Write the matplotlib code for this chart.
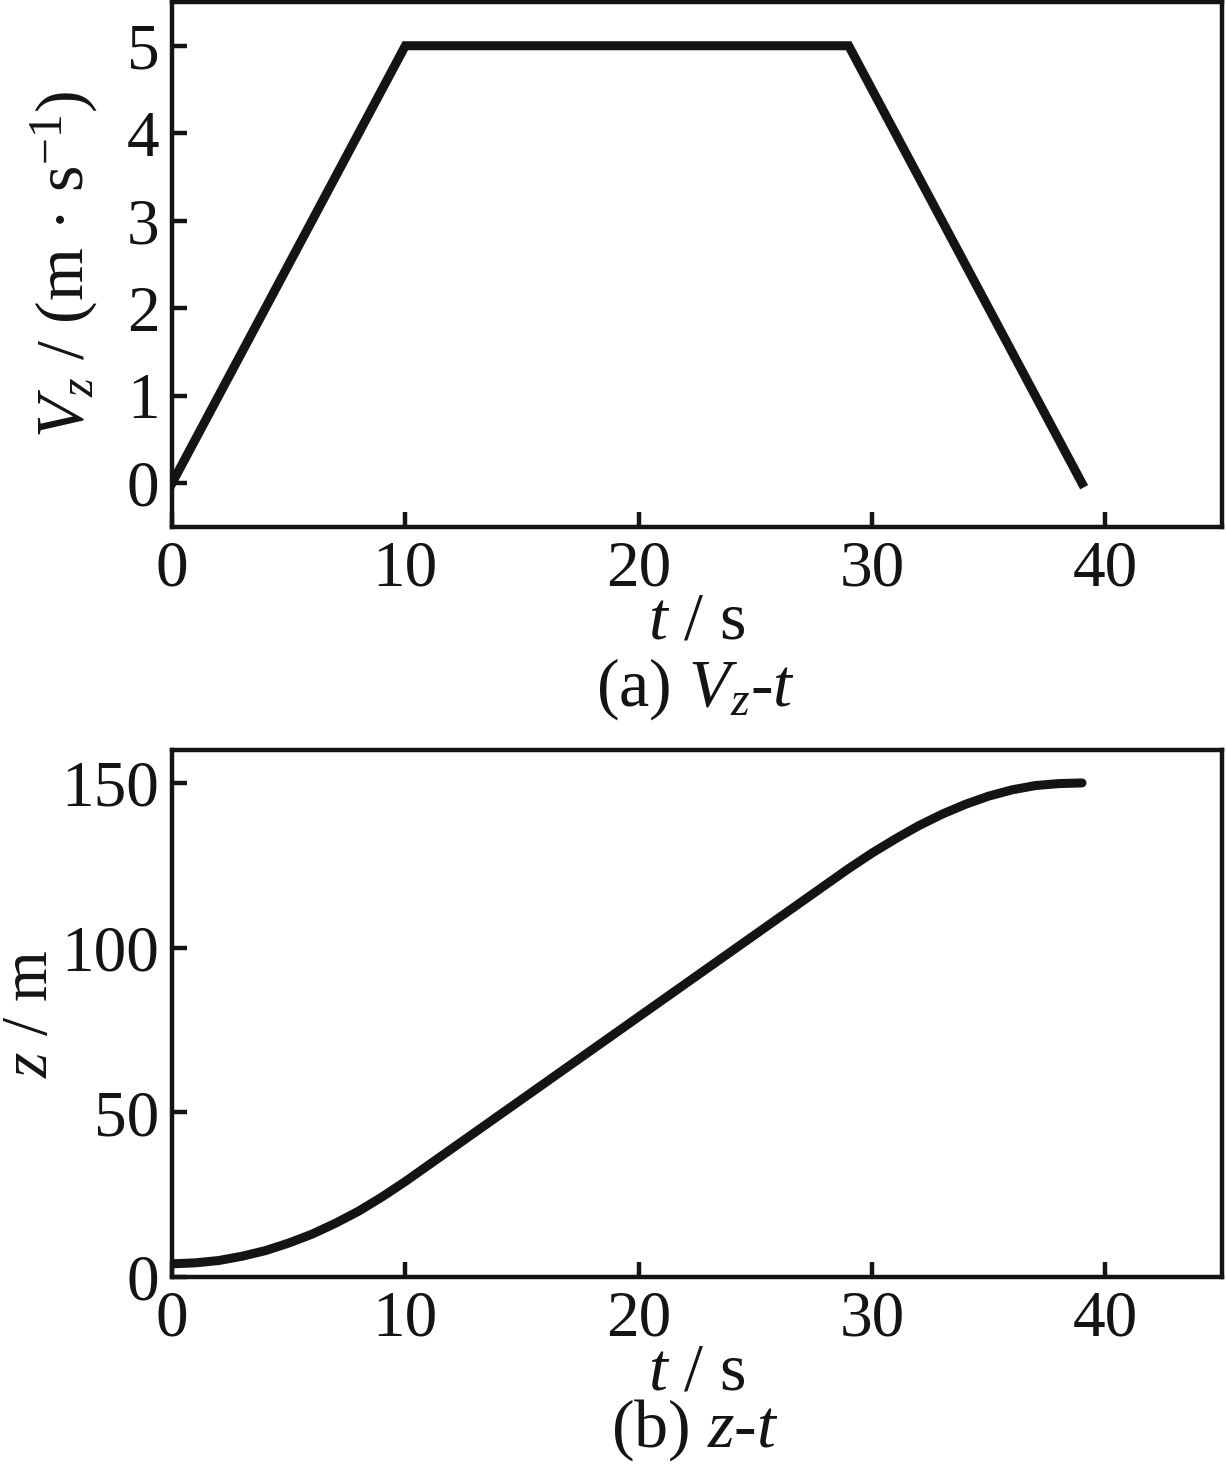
import numpy as np
import matplotlib
matplotlib.use('Agg')
import matplotlib.pyplot as plt

# values
t_v = [0, 10, 29, 39]
vz = [0, 5, 5, 0]

t_z = [0, 1, 2, 3, 4, 5, 6, 7, 8, 9, 10, 12, 15, 20, 25, 29, 30, 31, 32, 33, 34, 35, 36, 37, 38, 39]
z = [4, 4.3, 5, 6.3, 8, 10.3, 13, 16.3, 20, 24.3, 29, 39, 54, 79, 104, 124, 128.7, 133, 137, 140.5, 143.5, 146, 147.9, 149.2, 149.8, 150]

xticks = [0, 10, 20, 30, 40]
yticks_a = [0, 1, 2, 3, 4, 5]
yticks_b = [0, 50, 100, 150]

plt.rcParams['font.family'] = ['Liberation Serif', 'DejaVu Serif']
plt.rcParams['mathtext.fontset'] = 'custom'
plt.rcParams['mathtext.rm'] = 'Liberation Serif'
plt.rcParams['mathtext.it'] = 'Liberation Serif:italic'

col = '#161413'
fs = 49
W, H = 1226, 1466
fig = plt.figure(figsize=(W / 100, H / 100), dpi=100)

ax1 = fig.add_axes([172 / W, (H - 527) / H, 1050 / W, 525 / H])
ax2 = fig.add_axes([172 / W, (H - 1277) / H, 1050 / W, 527 / H])

ax1.plot(t_v, vz, color=col, lw=6.5, solid_joinstyle='miter')
ax2.plot(t_z, z, color=col, lw=6.5, solid_capstyle='round')

ax1.set_xlim(0, 45)
ax1.set_ylim(-0.5, 5.5)
ax2.set_xlim(0, 45)
ax2.set_ylim(0, 160)

for ax in (ax1, ax2):
    ax.set_xticks(xticks)
    ax.tick_params(direction='in', length=11, width=3.2, labelsize=47, color=col,
                   labelcolor=col, pad=9, top=False, right=False)
    for s in ax.spines.values():
        s.set_linewidth(3.2)
        s.set_color(col)
    ax.set_xlabel(r'$t$ / s', fontsize=fs, color=col, va='baseline')
    ax.xaxis.set_label_coords(0.5, -0.213)

ax1.set_yticks(yticks_a)
ax2.set_yticks(yticks_b)
ax1.set_ylabel(r'$V_z$ / (m · s$^{-1}$)', fontsize=fs, color=col)
ax1.yaxis.set_label_coords(-0.068, 0.5)
ax2.set_ylabel(r'$z$ / m', fontsize=47, color=col)
ax2.yaxis.set_label_coords(-0.106, 0.5)

fig.text(0.567, (H - 706) / H, r'(a) $V_z$-$t$', ha='center', va='baseline', fontsize=fs, color=col)
fig.text(0.567, (H - 1447) / H, r'(b) $z$-$t$', ha='center', va='baseline', fontsize=fs, color=col)

fig.savefig('out.png', dpi=100)
